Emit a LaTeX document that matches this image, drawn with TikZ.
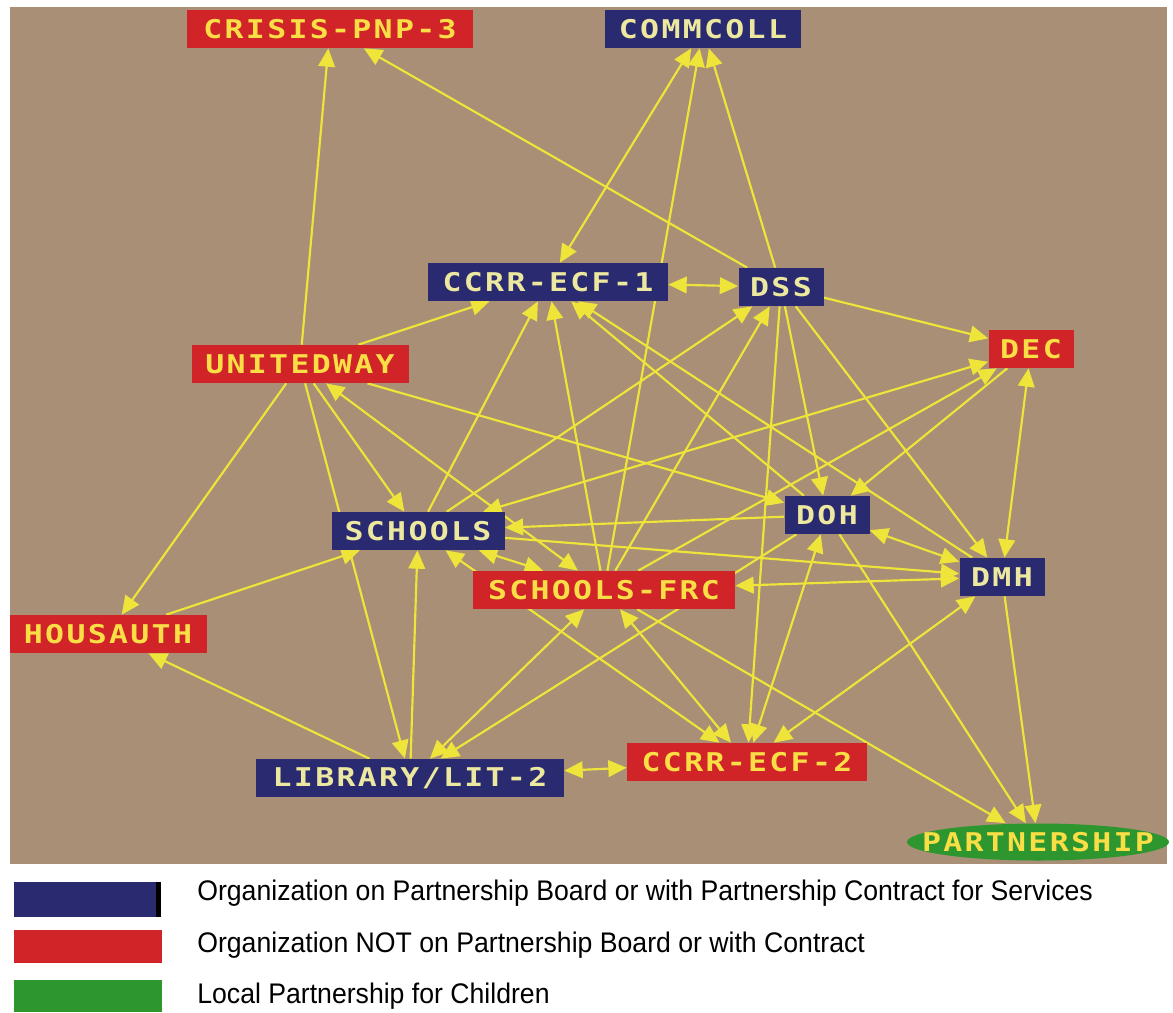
\documentclass[tikz,border=0pt]{standalone}
\usepackage{fontspec}
\setmainfont{Liberation Sans}
\newfontfamily\pixfont{DejaVu Sans Mono}[FakeStretch=1.22,LetterSpace=9]
\newfontfamily\keyfont{Liberation Sans}[FakeStretch=0.94]
\usetikzlibrary{arrows.meta, positioning}
\pgfdeclarelayer{bg}
\pgfdeclarelayer{edges}
\pgfsetlayers{bg,edges,main}
\definecolor{boardblue}{RGB}{42,42,112}
\definecolor{otherred}{RGB}{208,36,40}
\definecolor{partgreen}{RGB}{46,150,46}
\definecolor{linkyellow}{RGB}{238,228,58}
\definecolor{boxtext}{RGB}{236,232,160}
\definecolor{redtext}{RGB}{250,222,70}
\definecolor{tanbg}{RGB}{168,143,117}

\begin{document}
\begin{tikzpicture}[x=0.6pt,y=-0.6pt,
  org/.style={rectangle, inner sep=0pt, minimum height=22.8pt,
    font=\pixfont\bfseries\fontsize{15.5}{15.5}\selectfont},
  board/.style={org, fill=boardblue, text=boxtext},
  other/.style={org, fill=otherred, text=redtext},
  link/.style={draw=linkyellow, line width=1.3pt, -{Triangle[length=11pt,width=10pt]}},
  twoway/.style={link, {Triangle[length=11pt,width=10pt]}-{Triangle[length=11pt,width=10pt]}},
  keytext/.style={anchor=west, inner sep=0pt, font=\keyfont\fontsize{17}{17}\selectfont}]
\useasboundingbox (0,0) rectangle (1173,1012);
\begin{pgfonlayer}{bg}
\fill [white] (0,0) rectangle (1173,1012);
\fill [tanbg] (10,7) rectangle (1167,864);
\end{pgfonlayer}

\node [other, minimum width=171.6pt] (crisis) at (330,29) {CRISIS-PNP-3};
\node [board, minimum width=117.6pt] (commcoll) at (703,29) {COMMCOLL};
\node [board, minimum width=144pt] (ccrr1) at (548,282) {CCRR-ECF-1};
\node [board, minimum width=51pt] (dss) at (781,287) {DSS};
\node [other, minimum width=51pt] (dec) at (1031,349) {DEC};
\node [other, minimum width=130.2pt] (unitedway) at (300,364) {UNITEDWAY};
\node [board, minimum width=103.8pt] (schools) at (418,531) {SCHOOLS};
\node [board, minimum width=51pt] (doh) at (827,515) {DOH};
\node [board, minimum width=51pt] (dmh) at (1002,577) {DMH};
\node [other, minimum width=157.2pt] (frc) at (604,590) {SCHOOLS-FRC};
\node [other, minimum width=118.2pt] (housauth) at (108,634) {HOUSAUTH};
\node [board, minimum width=184.8pt] (library) at (410,778) {LIBRARY/LIT-2};
\node [other, minimum width=144pt] (ccrr2) at (747,762) {CCRR-ECF-2};
\fill [partgreen] (1038,842) ellipse [x radius=78.6pt, y radius=11.1pt];
\node [org, text=redtext, minimum width=157.2pt, minimum height=22.2pt] (partnership) at (1038,842) {PARTNERSHIP};

\begin{pgfonlayer}{edges}
\draw [link] (unitedway) -- (crisis);
\draw [link] (dss) -- (crisis);
\draw [twoway] (commcoll) -- (ccrr1);
\draw [link] (frc) -- (commcoll);
\draw [link] (dss) -- (commcoll);
\draw [twoway] (ccrr1) -- (dss);
\draw [link] (unitedway) -- (ccrr1);
\draw [link] (schools) -- (ccrr1);
\draw [link] (frc) -- (ccrr1);
\draw [link] (doh) -- (ccrr1);
\draw [link] (dmh) -- (ccrr1);
\draw [link] (dss) -- (dec);
\draw [link] (dss) -- (doh);
\draw [link] (dss) -- (dmh);
\draw [link] (dss) -- (ccrr2);
\draw [link] (dec) -- (doh);
\draw [twoway] (dec) -- (dmh);
\draw [twoway] (schools) -- (dec);
\draw [link] (frc) -- (dec);
\draw [link] (schools) -- (dss);
\draw [link] (frc) -- (dss);
\draw [link] (unitedway) -- (housauth);
\draw [link] (unitedway) -- (schools);
\draw [twoway] (unitedway) -- (frc);
\draw [link] (unitedway) -- (doh);
\draw [link] (unitedway) -- (library);
\draw [link] (housauth) -- (schools);
\draw [link] (library) -- (housauth);
\draw [link] (library) -- (schools);
\draw [twoway] (library) -- (frc);
\draw [twoway] (ccrr2) -- (library);
\draw [link] (doh) -- (library);
\draw [link] (doh) -- (schools);
\draw [link] (schools) -- (dmh);
\draw [twoway] (schools) -- (frc);
\draw [twoway] (schools) -- (ccrr2);
\draw [twoway] (frc) -- (ccrr2);
\draw [twoway] (frc) -- (dmh);
\draw [twoway] (doh) -- (dmh);
\draw [twoway] (doh) -- (ccrr2);
\draw [twoway] (dmh) -- (ccrr2);
\draw [link] (dmh) -- (partnership);
\draw [link] (doh) -- (partnership);
\draw [link] (frc) -- (partnership);
\end{pgfonlayer}

\fill [boardblue] (14,882) rectangle (156,917);
\fill [black] (156,882) rectangle (161,917);
\fill [otherred] (14,930) rectangle (162,963);
\fill [partgreen] (14,980) rectangle (162,1012);
\node [keytext] (keyboard) at (197,893) {Organization on Partnership Board or with Partnership Contract for Services};
\node [keytext] (keyother) at (197,945) {Organization NOT on Partnership Board or with Contract};
\node [keytext] (keypart) at (197,996) {Local Partnership for Children};
\end{tikzpicture}
\end{document}
